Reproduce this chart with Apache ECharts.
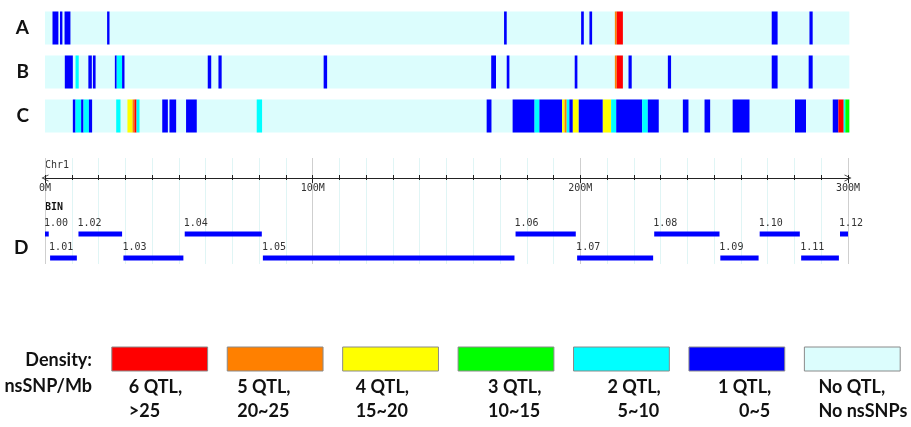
<!DOCTYPE html>
<html>
<head>
<meta charset="utf-8">
<script src="https://cdn.jsdelivr.net/npm/echarts@6/dist/echarts.min.js"></script>
<style>
html,body{margin:0;padding:0;background:#fff;}
#chart{width:911px;height:427px;}
</style>
</head>
<body>
<div id="chart"></div>
<script>
// ---------------- DATA ----------------
const stripRows = ['A', 'B', 'C'];
const chromLength = 300.5; // Mb
// segments: [start Mb, end Mb, QTL level]
const segA = [[2.8,5.0,1],[5.6,6.5,1],[7.3,9.5,1],[23.2,24.1,1],[171.5,172.5,1],[200.3,201.3,1],[203.4,204.4,1],[212.9,213.6,5],[213.6,215.9,6],[271.5,273.7,1],[285.6,286.8,1]];
const segB = [[7.4,10.4,1],[11.4,12.6,2],[16.2,17.5,1],[17.9,18.9,1],[26.1,26.8,1],[26.8,28.8,2],[28.8,29.7,1],[60.8,62.1,1],[64.8,66.0,1],[104.1,105.4,1],[166.7,168.5,1],[172.5,173.5,1],[197.9,198.9,1],[212.9,213.6,5],[213.6,215.9,6],[218.0,219.2,1],[232.7,233.9,1],[271.5,273.7,1],[285.3,286.8,1]];
const segC = [[10.4,11.4,1],[11.4,13.5,2],[13.5,14.4,1],[14.4,16.4,2],[16.4,17.6,1],[26.6,28.2,2],[30.8,32.7,4],[32.7,33.4,5],[33.4,34.2,6],[34.2,35.3,2],[43.8,45.9,1],[46.5,49.0,1],[52.7,56.7,1],[79.1,81.1,2],[165.0,166.8,1],[174.7,182.9,1],[182.9,184.7,2],[184.7,193.2,1],[193.2,194.1,4],[194.1,194.9,5],[194.9,195.9,2],[195.9,197.2,1],[197.2,199.4,4],[199.4,208.4,1],[208.4,211.5,4],[211.5,213.4,2],[213.4,223.1,1],[223.1,225.2,2],[225.2,229.3,1],[238.3,240.4,1],[246.4,248.5,1],[256.9,263.2,1],[280.2,284.3,1],[294.3,296.4,1],[296.4,298.4,6],[298.4,299.0,2],[299.0,300.5,3]];

const binNames  = ['1.00','1.01','1.02','1.03','1.04','1.05','1.06','1.07','1.08','1.09','1.10','1.11','1.12'];
const binStarts = [0, 1.9, 12.5, 29.3, 52.2, 81.4, 175.8, 198.8, 227.6, 252.3, 267.0, 282.5, 297.0];
const binEnds   = [1.4, 11.9, 28.8, 51.7, 81.0, 175.4, 198.3, 227.2, 252.0, 266.6, 282.0, 296.6, 300.0];
const binRows   = [0,1,0,1,0,1,0,1,0,1,0,1,0];

const axisMin = 0, axisMax = 300, minorStep = 10, majorStep = 100;

const legendLevels = [6,5,4,3,2,1,0];
const legendLine1 = ['6 QTL,','5 QTL,','4 QTL,','3 QTL,','2 QTL,','1 QTL,','No QTL,'];
const legendLine2 = ['>25','20~25','15~20','10~15','5~10','0~5','No nsSNPs'];

// ---------------- STYLE ----------------
const COLORS = ['#dcfdfd','#0000ff','#00ffff','#00ff00','#ffff00','#ff8000','#ff0000'];
const MONO = 'DejaVu Sans Mono';
const SANS = 'Lato';
const GRID_L = 45, GRID_W = 803;
// label indents (px) from each legend box's left edge, first and second line
const LEG_DX1 = [17, 10, 13, 30, 34, 29, 14];
const LEG_DX2 = [17, 10, 13, 30, 44, 50, 14];

const segs = [segA, segB, segC];
const stripData = [];
stripRows.forEach((r, i) => {
  stripData.push([0, chromLength, i, 0]);
  segs[i].forEach(s => stripData.push([s[0], s[1], i, s[2]]));
});
const binData = binNames.map((n, i) => [binStarts[i], binEnds[i], binRows[i], n]);
const legendData = legendLevels.map((lv, i) => [i, 0, lv]);

const splitColors = ['#cfcfcf'];
for (let k = 1; k < majorStep / minorStep; k++) splitColors.push('#e0f5f5');

const chevron = 'path://M0,10 L5,0 L10,10 L8.8,10 L5,2.4 L1.2,10 Z';

const chart = echarts.init(document.getElementById('chart'), null, {renderer: 'canvas'});

const valX = (gi, extra) => Object.assign({
  type: 'value', gridIndex: gi, min: axisMin, max: axisMax, interval: minorStep,
  axisLine: {show: false}, axisTick: {show: false}, axisLabel: {show: false}, splitLine: {show: false}
}, extra || {});

const legFont = 'bold 18px ' + SANS;

const option = {
  animation: false,
  backgroundColor: '#ffffff',
  grid: [
    {left: GRID_L, width: GRID_W, top: 6, height: 132},      // strips
    {left: GRID_L, width: GRID_W, top: 158, height: 106},    // vertical guide lines
    {left: GRID_L, width: GRID_W, top: 177, height: 1},      // axis
    {left: GRID_L, width: GRID_W, top: 222, height: 48},     // bins
    {left: 102, width: 808, top: 347, height: 24}            // legend
  ],
  xAxis: [
    valX(0, {show: false}),
    valX(1, {splitLine: {show: true, lineStyle: {color: splitColors, width: 1}}}),
    valX(2, {
      position: 'top',
      axisLine: {show: true, lineStyle: {color: '#222', width: 1}, symbol: [chevron, chevron], symbolSize: [9, 7]},
      axisTick: {show: true, length: 3, lineStyle: {color: '#222'}},
      axisLabel: {show: true, inside: true, margin: 6, fontFamily: MONO, fontSize: 10, color: '#333',
        formatter: v => (v % majorStep === 0 ? v + 'M' : '')}
    }),
    valX(2, {position: 'top', axisTick: {show: true, inside: true, length: 3, lineStyle: {color: '#222'}}}),
    valX(2, {position: 'top', interval: majorStep, axisTick: {show: true, inside: true, length: 6, lineStyle: {color: '#222'}}}),
    valX(3, {show: false}),
    {type: 'category', gridIndex: 4, data: legendLine1, show: false}
  ],
  yAxis: [
    {type: 'category', gridIndex: 0, data: stripRows, inverse: true,
      axisLine: {show: false}, axisTick: {show: false}, splitLine: {show: false},
      axisLabel: {margin: 16, fontFamily: SANS, fontWeight: 'bold', fontSize: 19, color: '#111'}},
    {type: 'value', gridIndex: 1, show: false, splitLine: {show: false}},
    {type: 'value', gridIndex: 2, show: false, splitLine: {show: false}},
    {type: 'category', gridIndex: 3, data: ['row1', 'row2'], inverse: true, show: false},
    {type: 'category', gridIndex: 4, data: ['box'], show: false}
  ],
  graphic: [
    {type: 'text', left: 14, top: 238, style: {text: 'D', font: 'bold 19px ' + SANS, fill: '#111'}},
    {type: 'text', left: 45, top: 160, style: {text: 'Chr1', font: '10px ' + MONO, fill: '#333'}},
    {type: 'text', left: 45, top: 202, style: {text: 'BIN', font: 'bold 10px ' + MONO, fill: '#111'}},
    {type: 'text', right: 911 - 92, top: 351, style: {text: 'Density:', font: legFont, fill: '#111'}},
    {type: 'text', right: 911 - 92, top: 377, style: {text: 'nsSNP/Mb', font: legFont, fill: '#111'}}
  ],
  series: [
    {
      type: 'custom', xAxisIndex: 0, yAxisIndex: 0, data: stripData, clip: false,
      encode: {x: [0, 1], y: 2},
      renderItem: (params, api) => {
        const r = api.value(2);
        const p0 = api.coord([api.value(0), r]);
        const p1 = api.coord([api.value(1), r]);
        const h = api.size([0, 1])[1] * 0.75;
        return {type: 'rect', shape: {x: p0[0], y: p0[1] - h / 2, width: Math.max(p1[0] - p0[0], 1), height: h},
          style: {fill: COLORS[api.value(3)]}};
      }
    },
    {
      type: 'custom', xAxisIndex: 5, yAxisIndex: 3, data: binData, clip: false,
      encode: {x: [0, 1], y: 2},
      renderItem: (params, api) => {
        const r = api.value(2);
        const p0 = api.coord([api.value(0), r]);
        const p1 = api.coord([api.value(1), r]);
        const h = 5;
        return {type: 'group', children: [
          {type: 'rect', shape: {x: p0[0], y: p0[1] - h / 2, width: Math.max(p1[0] - p0[0], 2), height: h},
            style: {fill: '#0000ff'}},
          {type: 'text', style: {x: p0[0] - 1, y: p0[1] - 11, text: binNames[params.dataIndex],
            font: '10px ' + MONO, fill: '#333', textVerticalAlign: 'middle', textAlign: 'left'}}
        ]};
      }
    },
    {
      type: 'custom', xAxisIndex: 6, yAxisIndex: 4, data: legendData, clip: false,
      encode: {x: 0, y: 1},
      renderItem: (params, api) => {
        const i = params.dataIndex;
        const c = api.coord([api.value(0), 0]);
        const w = api.size([1, 0])[0] * 0.83;
        const h = api.size([0, 1])[1];
        const x0 = c[0] - w / 2, yb = c[1] + h / 2;
        return {type: 'group', children: [
          {type: 'rect', shape: {x: x0, y: c[1] - h / 2, width: w, height: h},
            style: {fill: COLORS[api.value(2)], stroke: '#8a8a8a', lineWidth: 1}},
          {type: 'text', style: {x: x0 + LEG_DX1[i], y: yb + 16, text: legendLine1[i], font: legFont,
            fill: '#111', textAlign: 'left', textVerticalAlign: 'middle'}},
          {type: 'text', style: {x: x0 + LEG_DX2[i], y: yb + 40, text: legendLine2[i], font: legFont,
            fill: '#111', textAlign: 'left', textVerticalAlign: 'middle'}}
        ]};
      }
    }
  ]
};
chart.setOption(option);
</script>
</body>
</html>
